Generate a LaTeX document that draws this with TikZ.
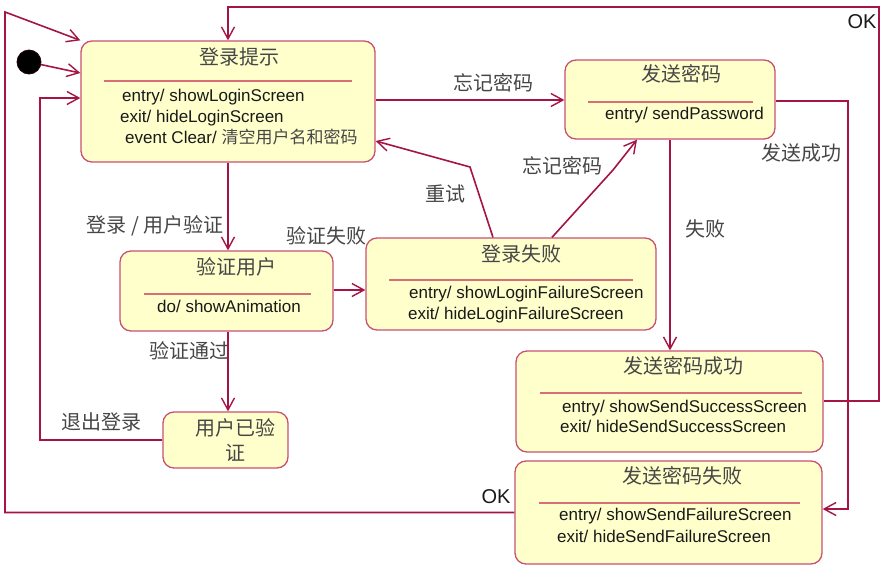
\documentclass[tikz,border=0pt]{standalone}
\usepackage{fontspec}
\setmainfont{Liberation Sans}
\newfontfamily\cjk{Noto Sans CJK SC}
\usetikzlibrary{arrows.meta}
\definecolor{lnc}{RGB}{165,20,70}
\definecolor{bdc}{RGB}{200,80,115}
\definecolor{sepc}{RGB}{215,110,120}
\definecolor{fillc}{RGB}{255,255,204}
\definecolor{cjkc}{RGB}{70,70,70}
\definecolor{txc}{RGB}{25,25,25}
\begin{document}
\begin{tikzpicture}[x=1pt,y=-1pt,
  state/.style={draw=bdc, line width=1.3pt, fill=fillc, rounded corners=11pt, inner sep=0pt},
  sepline/.style={draw=sepc, line width=1.2pt},
  ttl/.style={font=\cjk\fontsize{20}{25}\selectfont, text=cjkc, inner sep=0pt},
  body/.style={font=\fontsize{17}{20}\selectfont, text=txc, inner sep=0pt, anchor=base west},
  lbl/.style={font=\cjk\fontsize{20}{24}\selectfont, text=cjkc, inner sep=0pt},
  oklbl/.style={font=\fontsize{20}{24}\selectfont, text=txc, inner sep=0pt},
  conn/.style={draw=lnc, line width=1.6pt},
  arr/.style={conn, -{Straight Barb[length=12pt,width=13pt,line width=1.4pt]}}
]
\useasboundingbox (0,0) rectangle (888,568);
\fill[white] (0,0) rectangle (888,568);

% states
\node[state, minimum width=294pt, minimum height=121pt] (s1) at (228,101.5) {};
\node[ttl] (s1t) at (239,57) {登录提示};
\draw[sepline] (104,81) -- (352,81);
\node[body] (s1a) at (122,101) {entry/ showLoginScreen};
\node[body] (s1b) at (120,122) {exit/ hideLoginScreen};
\node[body] (s1c) at (125,143) {event Clear/ {\cjk\color{cjkc}清空用户名和密码}};

\node[state, minimum width=210pt, minimum height=79pt] (s2) at (670,99.5) {};
\node[ttl] (s2t) at (681,74) {发送密码};
\draw[sepline] (588,102) -- (753,102);
\node[body] (s2a) at (605,119) {entry/ sendPassword};

\node[state, minimum width=213pt, minimum height=80pt] (s3) at (226.5,291) {};
\node[ttl] (s3t) at (236,267) {验证用户};
\draw[sepline] (144,294) -- (311,294);
\node[body] (s3a) at (157,312) {do/ showAnimation};

\node[state, minimum width=290pt, minimum height=92pt] (s4) at (511,284) {};
\node[ttl] (s4t) at (521,254) {登录失败};
\draw[sepline] (389,280) -- (633,280);
\node[body] (s4a) at (409,298) {entry/ showLoginFailureScreen};
\node[body] (s4b) at (408,319) {exit/ hideLoginFailureScreen};

\node[state, minimum width=125pt, minimum height=56pt] (s5) at (225.5,440) {};
\node[ttl, align=center] (s5t) at (235,440) {用户已验\\证};

\node[state, minimum width=307pt, minimum height=101pt] (s6) at (669.5,401.5) {};
\node[ttl] (s6t) at (683,366) {发送密码成功};
\draw[sepline] (540,393) -- (802,393);
\node[body] (s6a) at (562,412) {entry/ showSendSuccessScreen};
\node[body] (s6b) at (560,432) {exit/ hideSendSuccessScreen};

\node[state, minimum width=307pt, minimum height=103pt] (s7) at (668.5,512.5) {};
\node[ttl] (s7t) at (682,476) {发送密码失败};
\draw[sepline] (539,503) -- (800,503);
\node[body] (s7a) at (559,520) {entry/ showSendFailureScreen};
\node[body] (s7b) at (557,542) {exit/ hideSendFailureScreen};

\node[circle, fill=black, draw=black!80!lnc, line width=0.8pt, minimum size=24pt, inner sep=0pt] (init) at (29,62) {};

% connectors
\draw[arr] (init) -- (s1.west |- 0,73);
\draw[arr] (s7.west) -- (5,512.5) -- (5,12) -- (s1.north west);
\draw[arr] (s6.east |- 0,401) -- (879,401) -- (879,7) -- (228,7) -- (s1.north);
\draw[arr] (s5.west) -- (40,440) -- (40,98) -- (s1.west |- 0,98);
\draw[arr] (s1.south -| 228,0) -- (s3.north -| 228,0);
\draw[arr] (s3.east |- 0,290) -- (s4.west |- 0,290);
\draw[arr] (s3.south -| 228,0) -- (s5.north -| 228,0);
\draw[arr] (s1.east |- 0,100) -- (s2.west |- 0,100);
\draw[arr] (s4.north -| 493,0) -- (470,167) -- (s1.east |- 0,141);
\draw[arr] (s4.north -| 552,0) -- (613,170) -- (s2.south -| 637,0);
\draw[arr] (s2.south -| 670,0) -- (s6.north -| 670,0);
\draw[arr] (s2.east |- 0,101) -- (848,101) -- (848,509) -- (s7.east |- 0,509);

% labels
\node[lbl] (l1) at (493,83) {忘记密码};
\node[lbl] (l2) at (562,166) {忘记密码};
\node[lbl] (l3) at (801,153) {发送成功};
\node[lbl] (l4) at (445,194) {重试};
\node[lbl] (l5) at (155,226) {登录 / 用户验证};
\node[lbl] (l6) at (326,236) {验证失败};
\node[lbl] (l7) at (189,351) {验证通过};
\node[lbl] (l8) at (705,229) {失败};
\node[lbl] (l9) at (101,422) {退出登录};
\node[oklbl] (ok1) at (862,22) {OK};
\node[oklbl] (ok2) at (496,497) {OK};
\end{tikzpicture}
\end{document}
